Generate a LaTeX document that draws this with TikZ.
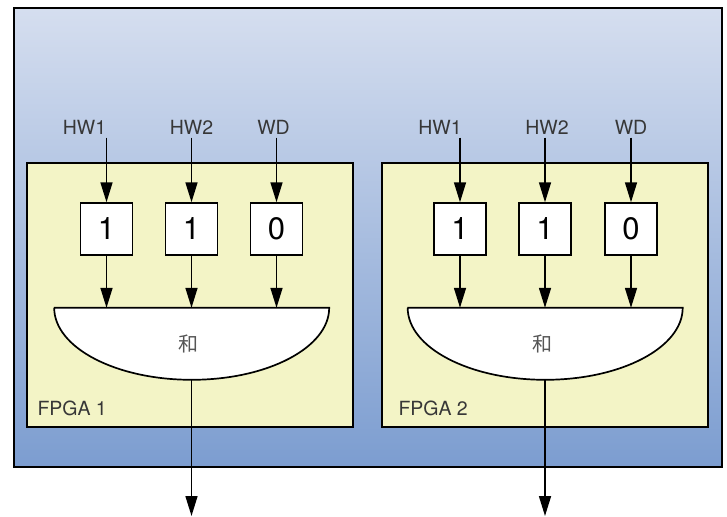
\documentclass[tikz,border=0pt]{standalone}
\usepackage{fontspec}
\setmainfont{TeX Gyre Heros}
\newfontfamily\cjk{Noto Sans CJK SC}
\usepackage{xcolor}
\usepackage{tikz}
\usetikzlibrary{positioning, arrows.meta}

\definecolor{boardtop}{RGB}{213,222,239}
\definecolor{boardbot}{RGB}{124,157,208}
\definecolor{chipfill}{RGB}{243,244,198}
\definecolor{labelgray}{RGB}{55,55,55}

\tikzset{
  fpga/.style={draw, line width=1.5pt, fill=chipfill, minimum width=326pt, minimum height=264pt},
  reg/.style={draw, line width=1.5pt, fill=white, minimum size=52pt, inner sep=0pt, font=\fontsize{31}{31}\selectfont},
  gate/.style={minimum width=275pt, minimum height=72pt, inner sep=0pt},
  gateline/.style={draw, line width=1.7pt, fill=white},
  sig/.style={text=labelgray, font=\fontsize{19.5}{19.5}\selectfont},
  sum/.style={text=labelgray!85, font=\fontsize{20}{20}\selectfont\cjk},
  wire/.style={-{Triangle[length=20pt,width=12pt]}, line width=1.6pt},
}

\begin{document}
\begin{tikzpicture}[x=1pt,y=-1pt,node distance=85pt,on grid]
       \useasboundingbox (0,0) rectangle (727,516);
       \shade[top color=boardtop, bottom color=boardbot] (14,8) rectangle (722,467);
       \draw[line width=2pt] (14,8) rectangle (722,467);

       % FPGA 1
       \node[fpga] (f1) at (190,295) {};
       \node[sig, anchor=base west] (n1) at (34,415) {FPGA 1};
       \node[reg] (r11) at (106.5,229) {1};
       \node[reg] (r12) [right=of r11] {1};
       \node[reg] (r13) [right=of r12] {0};
       \node[sig] (hw11) [above left=102pt and 22pt of r11] {HW1};
       \node[sig] (hw12) [above=102pt of r12] {HW2};
       \node[sig] (wd1)  [above left=102pt and 3pt of r13] {WD};
       \node[gate] (g1) [below=115pt of r12] {};
       \draw[gateline] (g1.north west) -- (g1.north east)
            arc[start angle=0, end angle=-180, x radius=137.5pt, y radius=72pt] -- cycle;
       \node[sum] (s1) [left=3pt of g1] {和};
       \coordinate (o1) at (g1.south |- 0,516);

       % FPGA 2
       \node[fpga] (f2) at (545,295) {};
       \node[sig, anchor=base west] (n2) at (395,415) {FPGA 2};
       \node[reg] (r21) at (460,229) {1};
       \node[reg] (r22) [right=of r21] {1};
       \node[reg] (r23) [right=86pt of r22] {0};
       \node[sig] (hw21) [above left=102pt and 20pt of r21] {HW1};
       \node[sig] (hw22) [above right=102pt and 2pt of r22] {HW2};
       \node[sig] (wd2)  [above=102pt of r23] {WD};
       \node[gate] (g2) [below=115pt of r22] {};
       \draw[gateline] (g2.north west) -- (g2.north east)
            arc[start angle=0, end angle=-180, x radius=137.5pt, y radius=72pt] -- cycle;
       \node[sum] (s2) [left=3pt of g2] {和};
       \coordinate (o2) at (g2.south |- 0,516);

       \path[wire]
       (hw11.south -| r11) edge (r11)
       (hw12.south -| r12) edge (r12)
       (wd1.south -| r13)  edge (r13)
       (r11) edge (r11 |- g1.north)
       (r12) edge (r12 |- g1.north)
       (r13) edge (r13 |- g1.north)
       (g1.south) edge (o1)
       (hw21.south -| r21) edge (r21)
       (hw22.south -| r22) edge (r22)
       (wd2.south -| r23)  edge (r23)
       (r21) edge (r21 |- g2.north)
       (r22) edge (r22 |- g2.north)
       (r23) edge (r23 |- g2.north)
       (g2.south) edge (o2);
    \end{tikzpicture}
\end{document}
